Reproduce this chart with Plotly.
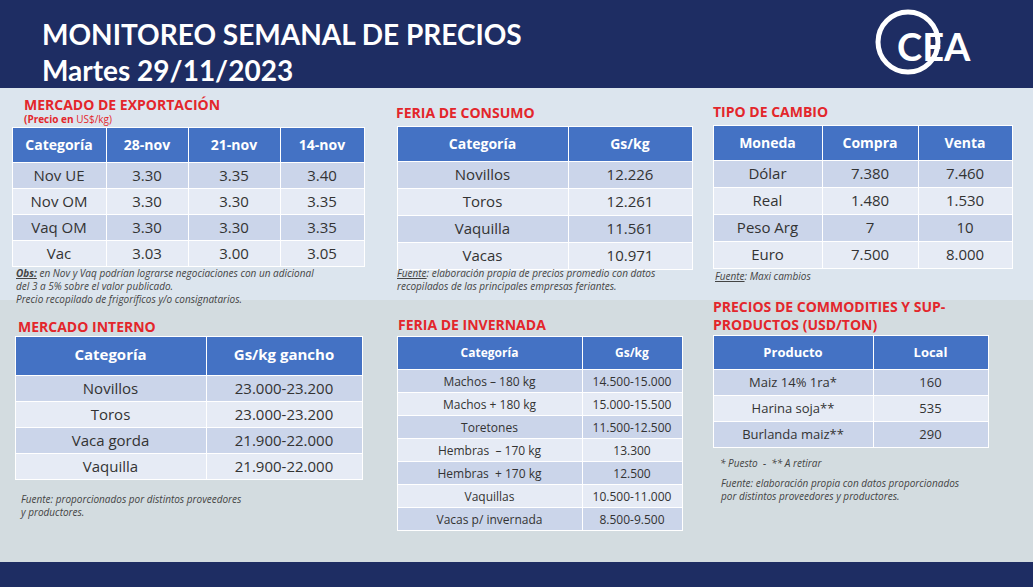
import plotly.graph_objects as go

W, H = 1033, 587

exp_cols = ["Categoría", "28-nov", "21-nov", "14-nov"]
exp_cat = ["Nov UE", "Nov OM", "Vaq OM", "Vac"]
exp_28 = ["3.30", "3.30", "3.30", "3.03"]
exp_21 = ["3.35", "3.30", "3.30", "3.00"]
exp_14 = ["3.40", "3.35", "3.35", "3.05"]

con_cols = ["Categoría", "Gs/kg"]
con_cat = ["Novillos", "Toros", "Vaquilla", "Vacas"]
con_val = ["12.226", "12.261", "11.561", "10.971"]

tc_cols = ["Moneda", "Compra", "Venta"]
tc_mon = ["Dólar", "Real", "Peso Arg", "Euro"]
tc_compra = ["7.380", "1.480", "7", "7.500"]
tc_venta = ["7.460", "1.530", "10", "8.000"]

int_cols = ["Categoría", "Gs/kg gancho"]
int_cat = ["Novillos", "Toros", "Vaca gorda", "Vaquilla"]
int_val = ["23.000-23.200", "23.000-23.200", "21.900-22.000", "21.900-22.000"]

inv_cols = ["Categoría", "Gs/kg"]
inv_cat = ["Machos – 180 kg", "Machos + 180 kg", "Toretones", "Hembras  – 170 kg",
           "Hembras  + 170 kg", "Vaquillas", "Vacas p/ invernada"]
inv_val = ["14.500-15.000", "15.000-15.500", "11.500-12.500", "13.300",
           "12.500", "10.500-11.000", "8.500-9.500"]

com_cols = ["Producto", "Local"]
com_prod = ["Maiz 14% 1ra*", "Harina soja**", "Burlanda maiz**"]
com_val = ["160", "535", "290"]

HDR = "#4472C4"
ROW_A = "#CBD5EA"
ROW_B = "#E6EBF5"
RED = "#E3262B"
NAVY = "#1E2D63"
FONT = "Open Sans"

fig = go.Figure()

def px_x(x): return x / W
def px_y(y): return 1 - y / H

def add_table(cols, data, x0, x1, y0, hh, rh, widths, hsize=14, csize=14):
    n = len(data[0])
    y1 = min(y0 + hh + rh * n + 30, H)
    fills = [[ROW_A if i % 2 == 0 else ROW_B for i in range(n)]] * len(cols)
    fig.add_trace(go.Table(
        domain=dict(x=[px_x(x0), px_x(x1)], y=[px_y(y1), px_y(y0)]),
        columnwidth=widths,
        header=dict(values=[f"<b>{c}</b>" for c in cols], fill_color=HDR,
                    line=dict(color="white", width=1), height=hh, align="center",
                    font=dict(color="white", size=hsize, family=FONT)),
        cells=dict(values=data, fill_color=fills, line=dict(color="white", width=1),
                   height=rh, align="center",
                   font=dict(color="#333333", size=csize, family=FONT)),
    ))

add_table(exp_cols, [exp_cat, exp_28, exp_21, exp_14], 12, 364, 127, 25, 26, [94, 82, 92, 84], 14, 15)
add_table(con_cols, [con_cat, con_val], 397, 692, 126, 26, 27, [171, 124], 14, 15)
add_table(tc_cols, [tc_mon, tc_compra, tc_venta], 713, 1012, 125, 26, 27, [109, 96, 94], 14, 15)
add_table(int_cols, [int_cat, int_val], 15, 362, 336, 39, 26, [191, 156], 15, 15)
add_table(inv_cols, [inv_cat, inv_val], 397, 682, 336, 23, 23, [185, 100], 12, 12)
add_table(com_cols, [com_prod, com_val], 713, 988, 335, 27, 26, [160, 115], 13, 13)

shapes = [
    dict(type="rect", xref="paper", yref="paper", x0=0, x1=1, y0=0, y1=1,
         fillcolor="#DCE5EE", line_width=0, layer="below"),
    dict(type="rect", xref="paper", yref="paper", x0=0, x1=1, y0=px_y(300), y1=px_y(587),
         fillcolor="#D3DCE0", line_width=0, layer="below"),
    dict(type="rect", xref="paper", yref="paper", x0=0, x1=1, y0=px_y(88), y1=1,
         fillcolor=NAVY, line_width=0, layer="below"),
    dict(type="rect", xref="paper", yref="paper", x0=0, x1=1, y0=0, y1=px_y(562),
         fillcolor=NAVY, line_width=0, layer="below"),
    dict(type="circle", xref="paper", yref="paper", x0=px_x(878), x1=px_x(938),
         y0=px_y(72), y1=px_y(12), line=dict(color="white", width=5), layer="below"),
]

def txt(x, y, s, size, color, bold=False, italic=False, anchor="left", font=FONT):
    if bold: s = f"<b>{s}</b>"
    if italic: s = f"<i>{s}</i>"
    fig.add_annotation(x=px_x(x), y=px_y(y), xref="paper", yref="paper", text=s,
                       showarrow=False, xanchor=anchor, yanchor="middle", align="left",
                       font=dict(size=size, color=color, family=font))

txt(40, 34, "MONITOREO SEMANAL DE PRECIOS", 28, "white", bold=True, font="Lato")
txt(40, 70, "Martes 29/11/2023", 28, "white", bold=True, font="Lato")
txt(895, 46, "CEA", 38, "white", bold=True, font="Lato")

txt(22, 104, "MERCADO DE EXPORTACIÓN", 14, RED, bold=True)
txt(22, 119, "<b>(Precio en</b> US$/kg)", 10, RED)
txt(394, 112, "FERIA DE CONSUMO", 14, RED, bold=True)
txt(711, 111, "TIPO DE CAMBIO", 14, RED, bold=True)
txt(16, 326, "MERCADO INTERNO", 14, RED, bold=True)
txt(396, 324, "FERIA DE INVERNADA", 14, RED, bold=True)
txt(711, 315, "PRECIOS DE COMMODITIES Y SUP-<br>PRODUCTOS (USD/TON)", 14, RED, bold=True)

NOTE = "#444444"
txt(14, 286, "<b><u>Obs:</u></b> en Nov y Vaq podrían lograrse negociaciones con un adicional<br>del 3 a 5% sobre el valor publicado.<br>Precio recopilado de frigoríficos y/o consignatarios.", 10, NOTE, italic=True)
txt(395, 279, "<u>Fuente</u>: elaboración propia de precios promedio con datos<br>recopilados de las principales empresas feriantes.", 10, NOTE, italic=True)
txt(713, 276, "<u>Fuente</u>: Maxi cambios", 10, NOTE, italic=True)
txt(18, 505, "Fuente: proporcionados por distintos proveedores<br>y productores.", 10, NOTE, italic=True)
txt(718, 463, "* Puesto  -  ** A retirar", 10, NOTE, italic=True)
txt(718, 489, "Fuente: elaboración propia con datos proporcionados<br>por distintos proveedores y productores.", 10, NOTE, italic=True)

fig.update_layout(width=W, height=H, margin=dict(l=0, r=0, t=0, b=0),
                  paper_bgcolor="#DCE5EE", shapes=shapes, showlegend=False)
fig.write_html("out.html", config={"displayModeBar": False},
               post_script="document.body.style.margin='0';document.body.style.overflow='hidden';")
